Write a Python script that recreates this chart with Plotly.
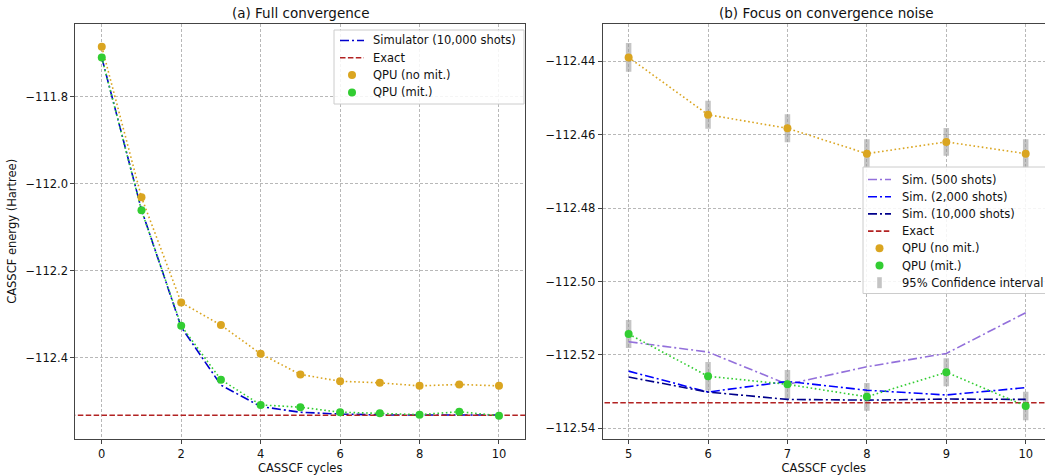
import plotly.graph_objects as go

# CASSCF macro-iterations
cycles = [0, 1, 2, 3, 4, 5, 6, 7, 8, 9, 10]
focus_cycles = [5, 6, 7, 8, 9, 10]

exact_energy = -112.533

qpu_no_mit = [-111.685, -112.0315, -112.2735, -112.3255, -112.3915,
              -112.4390, -112.4546, -112.4583, -112.4652, -112.4620, -112.4652]
qpu_mit = [-111.710, -112.0614, -112.327, -112.451, -112.509,
           -112.5143, -112.5258, -112.5280, -112.5314, -112.5247, -112.5339]

sim_10000 = [-111.710, -112.060, -112.330, -112.4635, -112.5127,
             -112.5260, -112.5301, -112.5321, -112.5323, -112.5320, -112.5321]
sim_2000 = [-112.5244, -112.5301, -112.5272, -112.5296, -112.5309, -112.5289]
sim_500 = [-112.5164, -112.5192, -112.5280, -112.5232, -112.5196, -112.5085]

# 95% confidence half-widths for cycles 5..10
ci_no_mit = [0.0039, 0.0038, 0.0038, 0.0039, 0.0038, 0.0039]
ci_mit = [0.0038, 0.0039, 0.0039, 0.0038, 0.0038, 0.0039]

legend_a = ["Simulator (10,000 shots)", "Exact", "QPU (no mit.)", "QPU (mit.)"]
legend_b = ["Sim. (500 shots)", "Sim. (2,000 shots)", "Sim. (10,000 shots)", "Exact",
            "QPU (no mit.)", "QPU (mit.)", "95% Confidence interval"]

ORANGE = "#DAA520"
GREEN = "#32CD32"
RED = "#B22222"
PURPLE = "#9370DB"
BLUE = "#0000FF"
NAVY = "#00008B"
SIM_LEFT = "#0000CD"
CI_GREY = "rgba(150,150,150,0.55)"
CI_KEY = "#c4c4c4"

DASHDOT = "9px,3px,2px,3px"
DASHED = "5.5px,2.4px"
DOTTED = "1.6px,2.6px"

W, H = 1045, 475
font_family = "DejaVu Sans"
TEXT = "#111"
LABEL_SIZE = 11.5

fig = go.Figure()


def line_trace(x, y, color, dash, xa, ya):
    return go.Scatter(x=x, y=y, mode="lines", line=dict(color=color, width=1.6, dash=dash),
                      showlegend=False, hoverinfo="skip", xaxis=xa, yaxis=ya)


def dot_trace(x, y, color, xa, ya):
    return go.Scatter(x=x, y=y, mode="markers", marker=dict(color=color, size=8),
                      showlegend=False, xaxis=xa, yaxis=ya)


# ---------- (a) Full convergence ----------
fig.add_trace(line_trace(cycles, sim_10000, SIM_LEFT, DASHDOT, "x", "y"))
fig.add_trace(line_trace([-1, 12], [exact_energy, exact_energy], RED, DASHED, "x", "y"))
fig.add_trace(line_trace(cycles, qpu_no_mit, ORANGE, DOTTED, "x", "y"))
fig.add_trace(line_trace(cycles, qpu_mit, GREEN, DOTTED, "x", "y"))
fig.add_trace(dot_trace(cycles, qpu_no_mit, ORANGE, "x", "y"))
fig.add_trace(dot_trace(cycles, qpu_mit, GREEN, "x", "y"))

# ---------- (b) Focus on convergence noise ----------
no_mit_focus = qpu_no_mit[5:]
mit_focus = qpu_mit[5:]
sim10k_focus = sim_10000[5:]

# confidence bars first so they sit underneath
for yv, ci in ((no_mit_focus, ci_no_mit), (mit_focus, ci_mit)):
    fig.add_trace(go.Scatter(x=focus_cycles, y=yv, mode="markers",
                             marker=dict(size=0.1, color="rgba(0,0,0,0)"),
                             error_y=dict(type="data", array=ci, visible=True,
                                          color=CI_GREY, thickness=5.5, width=0),
                             showlegend=False, hoverinfo="skip", xaxis="x2", yaxis="y2"))

fig.add_trace(line_trace(focus_cycles, sim_500, PURPLE, DASHDOT, "x2", "y2"))
fig.add_trace(line_trace(focus_cycles, sim_2000, BLUE, DASHDOT, "x2", "y2"))
fig.add_trace(line_trace(focus_cycles, sim10k_focus, NAVY, DASHDOT, "x2", "y2"))
fig.add_trace(line_trace([4, 11], [exact_energy, exact_energy], RED, DASHED, "x2", "y2"))
fig.add_trace(line_trace(focus_cycles, no_mit_focus, ORANGE, DOTTED, "x2", "y2"))
fig.add_trace(line_trace(focus_cycles, mit_focus, GREEN, DOTTED, "x2", "y2"))
fig.add_trace(dot_trace(focus_cycles, no_mit_focus, ORANGE, "x2", "y2"))
fig.add_trace(dot_trace(focus_cycles, mit_focus, GREEN, "x2", "y2"))


# ---------- legends (drawn as layout shapes + annotations) ----------
def px_x(x):
    return x / W


def px_y(y):
    return 1 - y / H


shapes = []
annotations = []


def draw_legend(box, row0, row_gap, key_x0, key_x1, text_x, labels, keys):
    bx0, by0, bx1, by1 = box
    shapes.append(dict(type="rect", xref="paper", yref="paper", layer="above",
                       x0=px_x(bx0), x1=px_x(bx1), y0=px_y(by1), y1=px_y(by0),
                       fillcolor="rgba(255,255,255,0.85)",
                       line=dict(color="#cccccc", width=1)))
    cx = (key_x0 + key_x1) / 2
    for i, (label, key) in enumerate(zip(labels, keys)):
        yc = row0 + i * row_gap
        kind, color, dash = key
        if kind == "line":
            shapes.append(dict(type="line", xref="paper", yref="paper", layer="above",
                               x0=px_x(key_x0), x1=px_x(key_x1),
                               y0=px_y(yc), y1=px_y(yc),
                               line=dict(color=color, width=1.6, dash=dash)))
        elif kind == "dot":
            shapes.append(dict(type="circle", xref="paper", yref="paper", layer="above",
                               xsizemode="pixel", ysizemode="pixel",
                               xanchor=px_x(cx), yanchor=px_y(yc),
                               x0=-4, x1=4, y0=-4, y1=4,
                               fillcolor=color, line=dict(width=0)))
        else:  # confidence bar
            shapes.append(dict(type="rect", xref="paper", yref="paper", layer="above",
                               xsizemode="pixel", ysizemode="pixel",
                               xanchor=px_x(cx), yanchor=px_y(yc),
                               x0=-2.3, x1=2.3, y0=-5.5, y1=5.5,
                               fillcolor=color, line=dict(width=0)))
        annotations.append(dict(text=label, x=px_x(text_x), y=px_y(yc),
                                xref="paper", yref="paper", xanchor="left",
                                yanchor="middle", showarrow=False,
                                font=dict(size=LABEL_SIZE, family=font_family, color=TEXT)))


draw_legend((334, 30, 524, 104), 40.5, 17.3, 340, 364, 371, legend_a,
            [("line", SIM_LEFT, DASHDOT), ("line", RED, DASHED),
             ("dot", ORANGE, None), ("dot", GREEN, None)])
draw_legend((863, 167, 1052, 293.5), 179.5, 17.2, 868, 891, 899.5, legend_b,
            [("line", PURPLE, DASHDOT), ("line", BLUE, DASHDOT), ("line", NAVY, DASHDOT),
             ("line", RED, DASHED), ("dot", ORANGE, None), ("dot", GREEN, None),
             ("bar", CI_KEY, None)])

annotations += [
    dict(text="(a) Full convergence", x=0.2873, y=0.973, xref="paper", yref="paper",
         xanchor="center", yanchor="middle", showarrow=False,
         font=dict(size=13.5, family=font_family, color=TEXT)),
    dict(text="(b) Focus on convergence noise", x=0.7905, y=0.973, xref="paper",
         yref="paper", xanchor="center", yanchor="middle", showarrow=False,
         font=dict(size=13.5, family=font_family, color=TEXT)),
]

axis_common = dict(
    showline=True, linecolor="#444", linewidth=1,
    ticks="outside", ticklen=4, tickcolor="#444", tickwidth=1,
    showgrid=True, gridcolor="#b8b8b8", gridwidth=0.8, griddash="3px,2px",
    zeroline=False, tickfont=dict(size=LABEL_SIZE, color=TEXT, family=font_family),
)

fig.update_layout(
    width=W, height=H,
    margin=dict(l=0, r=0, t=0, b=0),
    paper_bgcolor="white", plot_bgcolor="white",
    font=dict(family=font_family, size=LABEL_SIZE, color=TEXT),
    showlegend=False,
    xaxis=dict(domain=[0.0721, 0.5024], range=[-0.665, 10.655],
               tickmode="array", tickvals=[0, 2, 4, 6, 8, 10], mirror=True,
               title=dict(text="CASSCF cycles", standoff=4,
                          font=dict(size=LABEL_SIZE, family=font_family)),
               anchor="y", **axis_common),
    yaxis=dict(domain=[0.0764, 0.9495], range=[-112.5868, -111.6328],
               tickmode="linear", tick0=-111.8, dtick=0.2, tickformat=".1f",
               mirror=True,
               title=dict(text="CASSCF energy (Hartree)", standoff=6,
                          font=dict(size=LABEL_SIZE, family=font_family)),
               anchor="x", **axis_common),
    xaxis2=dict(domain=[0.5767, 1.0], range=[4.673, 10.243],
                tickmode="linear", tick0=5, dtick=1, mirror=True,
                title=dict(text="CASSCF cycles", standoff=4,
                           font=dict(size=LABEL_SIZE, family=font_family)),
                anchor="y2", **axis_common),
    yaxis2=dict(domain=[0.0764, 0.9495], range=[-112.5428, -112.4299],
                tickmode="linear", tick0=-112.44, dtick=0.02, tickformat=".2f",
                mirror=False, anchor="x2", **axis_common),
    shapes=shapes,
    annotations=annotations,
)

fig.write_html("out.html")
